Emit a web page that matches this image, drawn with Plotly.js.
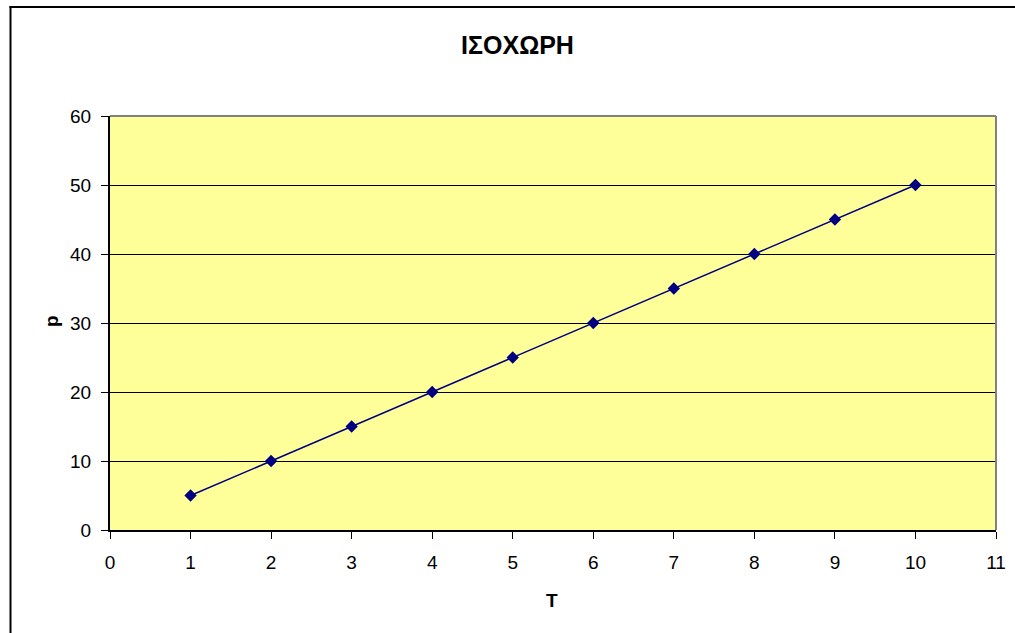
<!DOCTYPE html>
<html>
<head>
<meta charset="utf-8">
<script src="https://cdn.plot.ly/plotly-3.0.1.min.js"></script>
<style>html,body{margin:0;padding:0;background:#fff;}#chart{width:1015px;height:633px;}</style>
</head>
<body>
<div id="chart"></div>
<script>
const T = [1, 2, 3, 4, 5, 6, 7, 8, 9, 10];
const p = [5, 10, 15, 20, 25, 30, 35, 40, 45, 50];
const chartTitle = "ΙΣΟΧΩΡΗ";
const xTitle = "T";
const yTitle = "p";

const L = 110, R = 996, TOP = 116, BOT = 530, W = 1015, H = 633;
const pw = R - L, ph = BOT - TOP;
const px = v => (v - L) / pw;
const py = v => (BOT - v) / ph;
const FAM = '"Liberation Sans", Arial, sans-serif';

const trace = {
  x: T, y: p, type: 'scatter', mode: 'lines+markers',
  line: {color: '#000080', width: 1.5},
  marker: {symbol: 'diamond', size: 9.5, color: '#000080'},
  hoverinfo: 'x+y'
};

const layout = {
  width: W, height: H,
  margin: {l: L, r: W - R, t: TOP, b: H - BOT, pad: 0},
  paper_bgcolor: '#ffffff',
  plot_bgcolor: '#FFFF99',
  showlegend: false,
  font: {family: FAM, size: 19, color: '#000'},
  title: {text: '<b>' + chartTitle + '</b>', font: {family: FAM, size: 25, color: '#000'},
          x: 517.5 / W, xanchor: 'center', y: 1 - 45.5 / H, yanchor: 'middle', yref: 'container', xref: 'container'},
  xaxis: {
    range: [0, 11], dtick: 1, tick0: 0,
    showgrid: false, zeroline: false,
    showline: true, linecolor: '#000', linewidth: 2,
    ticks: 'outside', ticklen: 7, tickcolor: '#000', tickwidth: 1,
    ticklabelstandoff: 7,
    tickfont: {family: FAM, size: 19, color: '#000'}
  },
  yaxis: {
    range: [0, 60], dtick: 10, tick0: 0,
    showgrid: true, gridcolor: '#000', gridwidth: 1, zeroline: false,
    showline: true, linecolor: '#000', linewidth: 2,
    ticks: 'outside', ticklen: 7, tickcolor: '#000', tickwidth: 1,
    ticklabelstandoff: 6,
    tickfont: {family: FAM, size: 19, color: '#000'}
  },
  annotations: [
    {text: '<b>' + xTitle + '</b>', xref: 'paper', yref: 'paper', x: px(551.5), y: py(600),
     xanchor: 'center', yanchor: 'middle', showarrow: false, font: {family: FAM, size: 19, color: '#000'}},
    {text: '<b>' + yTitle + '</b>', xref: 'paper', yref: 'paper', x: px(51), y: py(321), textangle: -90,
     xanchor: 'center', yanchor: 'middle', showarrow: false, font: {family: FAM, size: 19, color: '#000'}}
  ],
  shapes: [
    {type: 'line', xref: 'paper', yref: 'paper', x0: 0, x1: 1, y0: 1, y1: 1, line: {color: '#808080', width: 2}},
    {type: 'line', xref: 'paper', yref: 'paper', x0: 1, x1: 1, y0: 0, y1: 1, line: {color: '#808080', width: 2}},
    {type: 'line', xref: 'paper', yref: 'paper', x0: px(10.5), x1: px(10.5), y0: py(6), y1: py(H + 5), line: {color: '#000', width: 2}},
    {type: 'line', xref: 'paper', yref: 'paper', x0: px(9.5), x1: px(W + 5), y0: py(7), y1: py(7), line: {color: '#000', width: 2}}
  ]
};

Plotly.newPlot('chart', [trace], layout, {displayModeBar: false, staticPlot: true});
</script>
</body>
</html>
